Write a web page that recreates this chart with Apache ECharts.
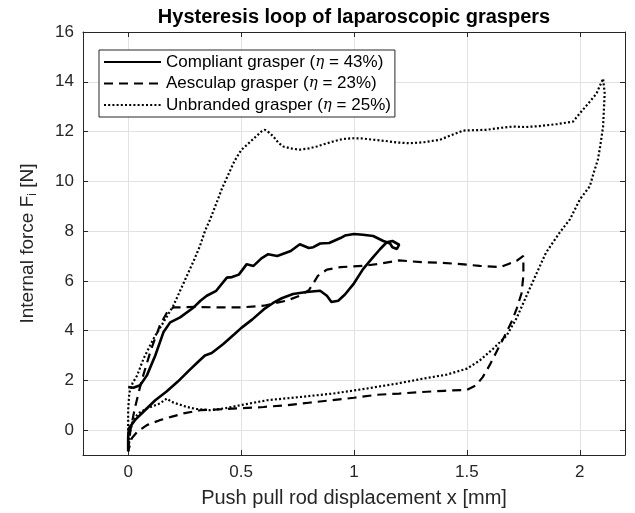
<!DOCTYPE html>
<html>
<head>
<meta charset="utf-8">
<script src="https://cdn.jsdelivr.net/npm/echarts@6/dist/echarts.min.js"></script>
<style>
html,body{margin:0;padding:0;background:#fff;}
#chart{width:635px;height:513px;}
</style>
</head>
<body>
<div id="chart"></div>
<script>
// ---- Data ----
const xTicks = [0, 0.5, 1, 1.5, 2];
const yTicks = [0, 2, 4, 6, 8, 10, 12, 14, 16];

const seriesNames = ['Compliant grasper', 'Aesculap grasper', 'Unbranded grasper'];
const efficiencies = ['43%', '23%', '25%'];

const compliantX = [0.0, 0.0, 0.003, 0.03, 0.08, 0.12, 0.17, 0.22, 0.27, 0.31, 0.34, 0.37, 0.42, 0.47, 0.5, 0.55, 0.6, 0.64, 0.68, 0.73, 0.79, 0.85, 0.88, 0.9, 0.93, 0.96, 1.0, 1.04, 1.08, 1.115, 1.145, 1.17, 1.2, 1.19, 1.17, 1.16, 1.13, 1.085, 1.04, 1.0, 0.96, 0.94, 0.91, 0.89, 0.85, 0.82, 0.8, 0.76, 0.72, 0.69, 0.66, 0.62, 0.59, 0.555, 0.525, 0.49, 0.46, 0.437, 0.39, 0.348, 0.32, 0.29, 0.23, 0.186, 0.156, 0.12, 0.083, 0.053, 0.023, 0.0];
const compliantY = [-0.85, -0.3, 0.07, 0.4, 0.85, 1.2, 1.55, 1.95, 2.4, 2.75, 3.0, 3.1, 3.45, 3.85, 4.1, 4.45, 4.85, 5.1, 5.3, 5.47, 5.55, 5.6, 5.4, 5.15, 5.2, 5.45, 5.9, 6.47, 6.9, 7.27, 7.55, 7.6, 7.45, 7.28, 7.35, 7.5, 7.6, 7.8, 7.85, 7.88, 7.82, 7.72, 7.6, 7.52, 7.5, 7.35, 7.32, 7.47, 7.2, 7.1, 7.0, 7.07, 6.9, 6.6, 6.67, 6.25, 6.15, 6.13, 5.6, 5.4, 5.2, 4.93, 4.53, 4.33, 3.93, 3.0, 2.2, 1.8, 1.7, 1.73];

const aesculapX = [0.0, 0.01, 0.03, 0.06, 0.1, 0.14, 0.17, 0.2, 0.3, 0.4, 0.5, 0.6, 0.7, 0.76, 0.8, 0.82, 0.84, 0.88, 0.94, 1.04, 1.1, 1.2, 1.3, 1.38, 1.46, 1.557, 1.646, 1.69, 1.72, 1.75, 1.75, 1.742, 1.72, 1.7, 1.668, 1.63, 1.6, 1.57, 1.54, 1.5, 1.4, 1.3, 1.2, 1.1, 1.0, 0.9, 0.8, 0.7, 0.6, 0.5, 0.4, 0.32, 0.245, 0.19, 0.14, 0.083, 0.04, 0.016, 0.0];
const aesculapY = [-0.8, 0.0, 0.9, 2.0, 3.2, 4.2, 4.7, 4.93, 4.95, 4.93, 4.93, 5.0, 5.2, 5.4, 5.62, 5.9, 6.2, 6.45, 6.55, 6.6, 6.67, 6.82, 6.75, 6.73, 6.68, 6.6, 6.55, 6.7, 6.8, 7.0, 6.2, 5.5, 4.87, 4.4, 3.8, 3.13, 2.6, 2.13, 1.8, 1.62, 1.58, 1.53, 1.47, 1.42, 1.3, 1.2, 1.1, 1.0, 0.93, 0.88, 0.83, 0.8, 0.67, 0.53, 0.4, 0.2, -0.07, -0.33, -0.85];

const unbrandedX = [0.0, 0.0, 0.0, 0.005, 0.02, 0.04, 0.068, 0.112, 0.156, 0.2, 0.23, 0.26, 0.29, 0.318, 0.34, 0.363, 0.39, 0.415, 0.44, 0.47, 0.5, 0.53, 0.56, 0.59, 0.606, 0.625, 0.643, 0.665, 0.687, 0.72, 0.76, 0.8, 0.835, 0.87, 0.908, 0.95, 0.997, 1.04, 1.085, 1.14, 1.19, 1.248, 1.31, 1.38, 1.43, 1.484, 1.587, 1.65, 1.705, 1.76, 1.823, 1.9, 1.97, 2.0, 2.044, 2.074, 2.103, 2.11, 2.103, 2.09, 2.08, 2.06, 2.044, 2.0, 1.956, 1.91, 1.85, 1.81, 1.764, 1.72, 1.676, 1.616, 1.557, 1.5, 1.41, 1.307, 1.19, 1.056, 0.908, 0.76, 0.614, 0.496, 0.43, 0.363, 0.3, 0.26, 0.193, 0.171, 0.14, 0.083, 0.05, 0.024, 0.01, 0.0];
const unbrandedY = [-0.85, 0.0, 0.8, 1.5, 1.9, 2.2, 2.87, 3.67, 4.33, 5.0, 5.6, 6.2, 6.8, 7.4, 8.0, 8.47, 9.1, 9.7, 10.2, 10.8, 11.25, 11.5, 11.75, 12.0, 12.07, 11.95, 11.8, 11.55, 11.4, 11.32, 11.27, 11.32, 11.4, 11.5, 11.6, 11.7, 11.73, 11.72, 11.67, 11.62, 11.56, 11.53, 11.57, 11.67, 11.85, 12.04, 12.07, 12.15, 12.2, 12.18, 12.22, 12.3, 12.4, 12.73, 13.2, 13.53, 14.13, 13.53, 12.2, 11.4, 10.87, 10.3, 9.8, 9.27, 8.47, 7.93, 7.13, 6.33, 5.4, 4.5, 3.8, 3.27, 2.8, 2.47, 2.23, 2.07, 1.87, 1.67, 1.47, 1.33, 1.2, 1.0, 0.88, 0.8, 0.85, 0.93, 1.13, 1.27, 1.07, 0.87, 0.7, 0.47, 0.0, -0.85];

// ---- Build ----
function pairs(xs, ys) { return xs.map((x, i) => [x, ys[i]]); }

const FONT = 'Liberation Sans, Arial, Helvetica, sans-serif';
const AX = '#262626';
const GRID = '#e2e2e2';

const chart = echarts.init(document.getElementById('chart'), null, {renderer: 'canvas'});

function fmtX(v) { return String(v); }

const baseX = {
  type: 'value', min: -0.2, max: 2.2, gridIndex: 0,
  axisLine: {show: true, onZero: false, lineStyle: {color: AX, width: 1}},
};
const baseY = {
  type: 'value', min: -1, max: 16, gridIndex: 0,
  axisLine: {show: true, onZero: false, lineStyle: {color: AX, width: 1}},
};

const legendNames = seriesNames.map((n, i) => n + ' (η = ' + efficiencies[i] + ')');

const option = {
  animation: false,
  backgroundColor: '#ffffff',
  textStyle: {fontFamily: FONT},
  graphic: [{
    type: 'text', x: 354, y: 7,
    style: {
      text: 'Hysteresis loop of laparoscopic graspers',
      font: 'bold 20px ' + FONT, fill: '#000', align: 'center', verticalAlign: 'top'
    }
  }],
  grid: {left: 83, right: 10, top: 32, bottom: 56, containLabel: false},
  legend: {
    orient: 'vertical', left: 99, top: 50,
    backgroundColor: '#fff', borderColor: AX, borderWidth: 1,
    padding: [3, 4, 3, 4], itemGap: 3.5, itemWidth: 57, itemHeight: 12,
    itemStyle: {opacity: 0},
    data: legendNames,
    formatter: function (name) {
      const i = legendNames.indexOf(name);
      return '{a|' + seriesNames[i] + ' (}{g|η}{a| = ' + efficiencies[i] + ')}';
    },
    textStyle: {
      color: '#000', fontFamily: FONT, fontSize: 17, lineHeight: 18,
      rich: {
        a: {fontFamily: FONT, fontSize: 17, color: '#000', lineHeight: 18},
        g: {fontFamily: 'DejaVu Serif, serif', fontStyle: 'italic', fontSize: 15, color: '#000', lineHeight: 18}
      }
    }
  },
  xAxis: [
    Object.assign({}, baseX, {
      position: 'bottom',
      name: 'Push pull rod displacement x [mm]', nameLocation: 'middle', nameGap: 33,
      nameTextStyle: {color: AX, fontSize: 20, fontFamily: FONT},
      axisTick: {show: true, inside: true, length: 5, lineStyle: {color: AX}, customValues: xTicks},
      axisLabel: {show: true, color: AX, fontSize: 17, fontFamily: FONT, margin: 9, customValues: xTicks, formatter: fmtX},
      splitLine: {show: true, lineStyle: {color: GRID, width: 1}}
    }),
    Object.assign({}, baseX, {
      position: 'top',
      axisTick: {show: true, inside: true, length: 5, lineStyle: {color: AX}, customValues: xTicks},
      axisLabel: {show: false, customValues: xTicks},
      splitLine: {show: false}
    })
  ],
  yAxis: [
    Object.assign({}, baseY, {
      position: 'left',
      name: '{a|Internal force F}{s|i}{a| [N]}', nameLocation: 'middle', nameGap: 44,
      nameTextStyle: {
        color: AX, fontSize: 19, fontFamily: FONT,
        rich: {
          a: {color: AX, fontSize: 19, fontFamily: FONT, lineHeight: 22},
          s: {color: AX, fontSize: 12, fontFamily: FONT, lineHeight: 22, verticalAlign: 'bottom', padding: [10, 0, 0, 0]}
        }
      },
      axisTick: {show: true, inside: true, length: 5, lineStyle: {color: AX}, customValues: yTicks},
      axisLabel: {show: true, color: AX, fontSize: 17, fontFamily: FONT, margin: 9, customValues: yTicks},
      splitLine: {show: true, lineStyle: {color: GRID, width: 1}}
    }),
    Object.assign({}, baseY, {
      position: 'right',
      axisTick: {show: true, inside: true, length: 5, lineStyle: {color: AX}, customValues: yTicks},
      axisLabel: {show: false, customValues: yTicks},
      splitLine: {show: false}
    })
  ],
  series: [
    {
      name: legendNames[2], type: 'line', xAxisIndex: 0, yAxisIndex: 0,
      data: pairs(unbrandedX, unbrandedY), symbol: 'none', showSymbol: false, smooth: false,
      lineStyle: {color: '#000', width: 2.2, type: [2, 2.2]}, itemStyle: {color: '#000'}, z: 2
    },
    {
      name: legendNames[1], type: 'line', xAxisIndex: 0, yAxisIndex: 0,
      data: pairs(aesculapX, aesculapY), symbol: 'none', showSymbol: false, smooth: false,
      lineStyle: {color: '#000', width: 2.2, type: [9, 6]}, itemStyle: {color: '#000'}, z: 3
    },
    {
      name: legendNames[0], type: 'line', xAxisIndex: 0, yAxisIndex: 0,
      data: pairs(compliantX, compliantY), symbol: 'none', showSymbol: false, smooth: false,
      lineStyle: {color: '#000', width: 2.6, type: 'solid'}, itemStyle: {color: '#000'}, z: 4
    }
  ]
};
chart.setOption(option);
</script>
</body>
</html>
